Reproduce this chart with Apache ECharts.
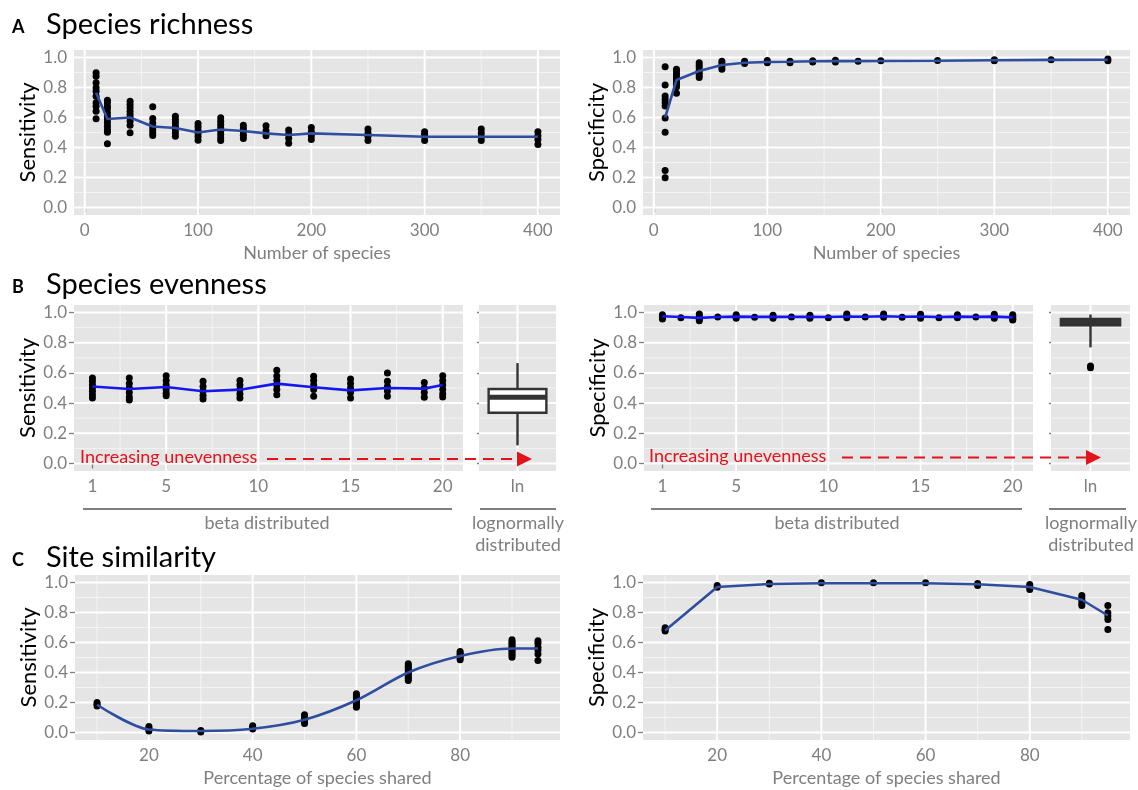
<!DOCTYPE html>
<html><head><meta charset="utf-8">
<script src="https://cdn.jsdelivr.net/npm/echarts@6/dist/echarts.min.js"></script>
<style>html,body{margin:0;padding:0;background:#fff}#c{width:1138px;height:790px}</style>
</head><body><div id="c"></div>
<script>
// ---------------- DATA ----------------
const richnessX = [10,20,40,60,80,100,120,140,160,180,200,250,300,350,400];
const richnessSens = [
  [0.898,0.875,0.831,0.798,0.775,0.742,0.698,0.675,0.642,0.591],
  [0.715,0.698,0.675,0.658,0.631,0.609,0.587,0.565,0.542,0.52,0.502,0.425],
  [0.709,0.687,0.665,0.642,0.62,0.598,0.575,0.549,0.498],
  [0.671,0.593,0.564,0.542,0.52,0.498,0.48],
  [0.609,0.587,0.565,0.542,0.52,0.498,0.475],
  [0.56,0.538,0.515,0.493,0.471,0.449],
  [0.598,0.575,0.553,0.531,0.509,0.487,0.465,0.447],
  [0.549,0.527,0.505,0.482,0.46],
  [0.545,0.512,0.479],
  [0.517,0.49,0.461,0.428],
  [0.534,0.505,0.479,0.453],
  [0.523,0.497,0.475,0.446],
  [0.505,0.49,0.475,0.446],
  [0.523,0.497,0.47,0.446],
  [0.505,0.479,0.453,0.42]
];
const richnessSensLine = [0.765,0.59,0.60,0.54,0.53,0.50,0.52,0.51,0.494,0.483,0.494,0.483,0.472,0.472,0.472];
const richnessSpec = [
  [0.938,0.816,0.743,0.722,0.700,0.677,0.596,0.501,0.247,0.199],
  [0.921,0.905,0.887,0.87,0.854,0.836,0.821,0.803,0.762],
  [0.965,0.949,0.932,0.914,0.899,0.883,0.866],
  [0.975,0.958,0.938,0.921],
  [0.975,0.96],
  [0.98,0.965],
  [0.975,0.965],
  [0.978,0.97],
  [0.982,0.97],
  [0.975],
  [0.978],
  [0.98],
  [0.985,0.978],
  [0.985],
  [0.99,0.978]
];
const richnessSpecLine = [0.6,0.85,0.91,0.95,0.965,0.97,0.972,0.975,0.976,0.976,0.977,0.978,0.982,0.984,0.985];

const evenSensX = [1,3,5,7,9,11,13,15,17,19,20];
const evenSens = [
  [0.567,0.544,0.522,0.5,0.478,0.456,0.433],
  [0.567,0.53,0.5,0.47,0.44,0.42],
  [0.582,0.55,0.52,0.49,0.465,0.449],
  [0.544,0.51,0.48,0.45,0.427],
  [0.55,0.52,0.49,0.46,0.433],
  [0.618,0.58,0.55,0.52,0.49,0.456],
  [0.578,0.55,0.52,0.49,0.445],
  [0.56,0.53,0.5,0.47,0.433],
  [0.6,0.544,0.51,0.48,0.445],
  [0.537,0.5,0.47,0.438],
  [0.582,0.55,0.52,0.49,0.46,0.44]
];
const evenSensLine = [0.51,0.493,0.507,0.478,0.489,0.529,0.505,0.484,0.5,0.496,0.52];
const evenSpecX = [1,2,3,4,5,6,7,8,9,10,11,12,13,14,15,16,17,18,19,20];
const evenSpec = [
  [0.985,0.975,0.965,0.958],[0.965],[0.99,0.975,0.955,0.945],[0.97],
  [0.985,0.975,0.962],[0.968],[0.982,0.97,0.962],[0.97],
  [0.982,0.97,0.962],[0.965],[0.99,0.978,0.965],[0.97],
  [0.99,0.978,0.968],[0.968],[0.988,0.975,0.962],[0.965],
  [0.985,0.975,0.965],[0.97],[0.988,0.975,0.962],[0.985,0.975,0.965,0.955,0.95]
];
const evenSpecLine = [0.975,0.97,0.965,0.97,0.973,0.971,0.972,0.971,0.972,0.97,0.974,0.972,0.975,0.972,0.973,0.97,0.973,0.971,0.973,0.968];
const lnCategory = ['ln'];
const lnSensBox = [0.12,0.336,0.438,0.493,0.665];   // min, q1, median, q3, max
const lnSpecBox = [0.769,0.915,0.94,0.958,0.987];
const lnSpecOutliers = [0.645,0.635];

const simX = [10,20,30,40,50,60,70,80,90,95];
const simSens = [
  [0.2,0.188,0.177],
  [0.04,0.028,0.018,0.01],
  [0.013,0.004],
  [0.045,0.035,0.023],
  [0.118,0.105,0.095,0.083,0.073,0.06],
  [0.258,0.245,0.236,0.225,0.214,0.2,0.19,0.178,0.168],
  [0.458,0.445,0.436,0.425,0.413,0.4,0.391,0.38,0.369,0.358,0.347],
  [0.54,0.528,0.518,0.507,0.496,0.485],
  [0.618,0.605,0.596,0.585,0.573,0.562,0.551,0.54,0.529,0.515,0.502],
  [0.611,0.595,0.569,0.55,0.524,0.48]
];
const simSensLine = [0.185,0.02,0.01,0.025,0.085,0.215,0.4,0.51,0.56,0.56];
const simSpec = [
  [0.698,0.686,0.676],
  [0.98,0.969],
  [0.995,0.99],
  [0.998],
  [0.998],
  [0.998],
  [0.993,0.98],
  [0.987,0.971,0.953],
  [0.913,0.898,0.882,0.864,0.847],
  [0.847,0.798,0.776,0.753,0.687]
];
const simSpecLine = [0.68,0.97,0.99,0.995,0.995,0.995,0.988,0.97,0.885,0.78];

// tick labels and grid breaks
const yTicks = [0,0.2,0.4,0.6,0.8,1.0];
const yMinor = [0.1,0.3,0.5,0.7,0.9];
const richnessTicks = [0,100,200,300,400];
const richnessMinor = [50,150,250,350];
const evenTicks = [1,5,10,15,20];
const evenMajorGrid = [5,10,15,20];
const evenMinor = [2.5,7.5,12.5,17.5];
const simTicks = [20,40,60,80];
const simMinor = [10,30,50,70,90];

// ---------------- STYLE ----------------
const FONT = 'Lato';
const GRAY = '#7f7f7f';
const BG = '#e5e5e5';
const LINE_A = '#2f4e9f';
const LINE_B = '#1418ee';
const RED = '#e3121b';

const grids = [
  {left:74, top:50, width:486, height:165},   // 0 A left
  {left:643, top:50, width:487, height:165},  // 1 A right
  {left:74, top:305, width:389, height:166},  // 2 B left
  {left:479, top:305, width:77, height:166},  // 3 B left box
  {left:644, top:305, width:389, height:166}, // 4 B right
  {left:1051, top:305, width:79, height:166}, // 5 B right box
  {left:75, top:575, width:485, height:165},  // 6 C left
  {left:643, top:575, width:487, height:165}  // 7 C right
].map(g => Object.assign({show:true, backgroundColor:BG, borderWidth:0, containLabel:false, outerBoundsMode:'none'}, g));

function pts(xs, yss){ const o=[]; xs.forEach((x,i)=>yss[i].forEach(y=>o.push([x,y]))); return o; }
function pairs(xs, ys){ return xs.map((x,i)=>[x, ys[i]]); }

function xVal(idx, min, max, ticks, name){
  return {type:'value', gridIndex:idx, min, max, splitLine:{show:false}, axisLine:{show:false},
    axisTick:{show:true, customValues:ticks, length:5, lineStyle:{color:GRAY, width:1.3}},
    axisLabel:{customValues:ticks, color:GRAY, fontSize:17, fontFamily:FONT, margin:7},
    name: name || '', nameLocation:'middle', nameGap:29,
    nameTextStyle:{color:GRAY, fontSize:18, fontFamily:FONT}};
}
function xCat(idx){
  return {type:'category', gridIndex:idx, data:lnCategory, splitLine:{show:false}, axisLine:{show:false},
    axisTick:{show:true, alignWithLabel:true, length:5, lineStyle:{color:GRAY, width:1.3}},
    axisLabel:{color:GRAY, fontSize:17, fontFamily:FONT, margin:7}};
}
function yVal(idx, name, labels){
  return {type:'value', gridIndex:idx, min:-0.05, max:1.05, splitLine:{show:false}, axisLine:{show:false},
    axisTick:{show:true, customValues:yTicks, length: labels ? 5 : 2, lineStyle:{color:GRAY, width:1.3}},
    axisLabel:{show:labels, customValues:yTicks, color:GRAY, fontSize:17, fontFamily:FONT, margin:7,
      formatter: v => v.toFixed(1)},
    name: name || '', nameLocation:'middle', nameGap:35, nameRotate:90,
    nameTextStyle:{color:'#000', fontSize:22, fontFamily:FONT}};
}

function gridLines(idx, vMaj, vMin, xMid){
  const data = [];
  vMin.forEach(v=>data.push([v, 0.5, 0, 0]));
  yMinor.forEach(v=>data.push([xMid, v, 1, 0]));
  vMaj.forEach(v=>data.push([v, 0.5, 0, 1]));
  yTicks.forEach(v=>data.push([xMid, v, 1, 1]));
  return {type:'custom', xAxisIndex:idx, yAxisIndex:idx, silent:true, z:1, clip:true,
    encode:{x:0, y:1},
    renderItem:(params, api)=>{
      const cs = params.coordSys;
      const p = api.coord([api.value(0), api.value(1)]);
      const w = api.value(3) ? 2 : 1;
      const col = api.value(3) ? '#ffffff' : '#f4f4f4';
      if (api.value(2) === 0) {
        return {type:'line', shape:{x1:p[0], y1:cs.y, x2:p[0], y2:cs.y+cs.height}, style:{stroke:col, lineWidth:w}};
      }
      return {type:'line', shape:{x1:cs.x, y1:p[1], x2:cs.x+cs.width, y2:p[1]}, style:{stroke:col, lineWidth:w}};
    },
    data};
}
function scatter(idx, data){
  return {type:'scatter', xAxisIndex:idx, yAxisIndex:idx, data, symbolSize:7, z:3,
    itemStyle:{color:'#000', opacity:1}, silent:true};
}
function line(idx, data, color, smooth){
  return {type:'line', xAxisIndex:idx, yAxisIndex:idx, data, showSymbol:false, symbol:'none', z:4,
    smooth: smooth || false, lineStyle:{color, width:2.6}, silent:true};
}
function box(idx, stats, fill){
  return {type:'custom', xAxisIndex:idx, yAxisIndex:idx, z:3, silent:true,
    encode:{x:0, y:[1,2,3,4,5]},
    renderItem:(params, api)=>{
      const x = api.value(0);
      const pMin = api.coord([x, api.value(1)]);
      const pQ1 = api.coord([x, api.value(2)]);
      const pMed = api.coord([x, api.value(3)]);
      const pQ3 = api.coord([x, api.value(4)]);
      const pMax = api.coord([x, api.value(5)]);
      const bw = api.size([1, 0])[0] * 0.75;
      const cx = pMed[0];
      const st = {stroke:'#333', lineWidth:2.4};
      return {type:'group', children:[
        {type:'line', shape:{x1:cx, y1:pQ3[1], x2:cx, y2:pMax[1]}, style:st},
        {type:'line', shape:{x1:cx, y1:pQ1[1], x2:cx, y2:pMin[1]}, style:st},
        {type:'rect', shape:{x:cx-bw/2, y:pQ3[1], width:bw, height:pQ1[1]-pQ3[1]}, style:{fill:fill, stroke:'#333', lineWidth:2.4}},
        {type:'line', shape:{x1:cx-bw/2, y1:pMed[1], x2:cx+bw/2, y2:pMed[1]}, style:{stroke:'#333', lineWidth:5}}
      ]};
    },
    data:[[0].concat(stats)]};
}

const chart = echarts.init(document.getElementById('c'), null, {renderer:'canvas'});

const txt = (x, y, text, font, fill, align) => ({type:'text', x, y, z:100, silent:true,
  style:{text, font, fill, align: align || 'left', verticalAlign:'middle'}});
const hline = (x1, x2, y, stroke, w, dash) => ({type:'line', z:100, silent:true,
  shape:{x1, y1:y, x2, y2:y}, style:{stroke, lineWidth:w, lineDash:dash || null}});
const arrowHead = (tipX, y) => ({type:'polygon', z:100, silent:true,
  shape:{points:[[tipX-15, y-7.5],[tipX, y],[tipX-15, y+7.5]]}, style:{fill:RED}});

const graphics = [
  txt(12, 27, 'A', 'bold 18px Lato', '#000'),
  txt(46, 25, 'Species richness', '29px Lato', '#000'),
  txt(12, 287, 'B', 'bold 18px Lato', '#000'),
  txt(46, 285, 'Species evenness', '29px Lato', '#000'),
  txt(12, 560, 'C', 'bold 18px Lato', '#000'),
  txt(46, 558, 'Site similarity', '29px Lato', '#000'),
  // B left annotations
  txt(80, 457, 'Increasing unevenness', '18px Lato', RED),
  hline(267, 518, 459, RED, 2, [11,7]),
  arrowHead(532, 459),
  hline(83, 452, 509, '#555', 1.5),
  txt(267, 523, 'beta distributed', '18px Lato', GRAY, 'center'),
  hline(480, 556, 509, '#555', 1.5),
  txt(518, 523, 'lognormally', '18px Lato', GRAY, 'center'),
  txt(518, 545, 'distributed', '18px Lato', GRAY, 'center'),
  // B right annotations
  txt(649, 456, 'Increasing unevenness', '18px Lato', RED),
  hline(842, 1086, 457.5, RED, 2, [11,7]),
  arrowHead(1101, 457.5),
  hline(651, 1022, 509, '#555', 1.5),
  txt(837, 523, 'beta distributed', '18px Lato', GRAY, 'center'),
  hline(1049, 1126, 509, '#555', 1.5),
  txt(1091, 523, 'lognormally', '18px Lato', GRAY, 'center'),
  txt(1091, 545, 'distributed', '18px Lato', GRAY, 'center')
];

const option = {
  animation:false,
  backgroundColor:'#fff',
  textStyle:{fontFamily:FONT},
  grid: grids,
  xAxis: [
    xVal(0, -9.5, 419.5, richnessTicks, 'Number of species'),
    xVal(1, -9.5, 419.5, richnessTicks, 'Number of species'),
    xVal(2, 0, 21.1, evenTicks),
    xCat(3),
    xVal(4, 0, 21.1, evenTicks),
    xCat(5),
    xVal(6, 5.75, 99.25, simTicks, 'Percentage of species shared'),
    xVal(7, 5.75, 99.25, simTicks, 'Percentage of species shared')
  ],
  yAxis: [
    yVal(0, 'Sensitivity', true),
    yVal(1, 'Specificity', true),
    yVal(2, 'Sensitivity', true),
    yVal(3, '', false),
    yVal(4, 'Specificity', true),
    yVal(5, '', false),
    yVal(6, 'Sensitivity', true),
    yVal(7, 'Specificity', true)
  ],
  series: [
    gridLines(0, richnessTicks, richnessMinor, 200),
    gridLines(1, richnessTicks, richnessMinor, 200),
    gridLines(2, evenMajorGrid, evenMinor, 10),
    gridLines(3, [0], [], 0),
    gridLines(4, evenMajorGrid, evenMinor, 10),
    gridLines(5, [0], [], 0),
    gridLines(6, simTicks, simMinor, 50),
    gridLines(7, simTicks, simMinor, 50),

    scatter(0, pts(richnessX, richnessSens)),
    line(0, pairs(richnessX, richnessSensLine), LINE_A),
    scatter(1, pts(richnessX, richnessSpec)),
    line(1, pairs(richnessX, richnessSpecLine), LINE_A),

    scatter(2, pts(evenSensX, evenSens)),
    line(2, pairs(evenSensX, evenSensLine), LINE_B),
    box(3, lnSensBox, '#ffffff'),
    scatter(4, pts(evenSpecX, evenSpec)),
    line(4, pairs(evenSpecX, evenSpecLine), LINE_B),
    box(5, lnSpecBox, '#333333'),
    scatter(5, lnSpecOutliers.map(v => [0, v])),

    scatter(6, pts(simX, simSens)),
    line(6, pairs(simX, simSensLine), LINE_A, 0.3),
    scatter(7, pts(simX, simSpec)),
    line(7, pairs(simX, simSpecLine), LINE_A)
  ],
  graphic: graphics
};
chart.setOption(option);
</script>
</body></html>
